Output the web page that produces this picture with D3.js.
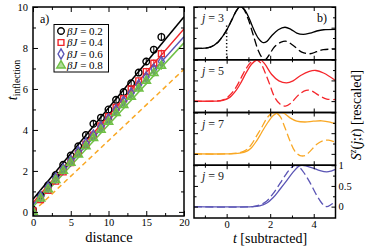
<!DOCTYPE html>
<html>
<head>
<meta charset="utf-8">
<script src="https://cdn.jsdelivr.net/npm/d3@7"></script>
<style>
  body { margin: 0; background: #fff; }
  text { font-family: "Liberation Serif", "Times New Roman", Times, serif; font-weight: normal; }
</style>
</head>
<body>
<svg id="fig" width="374" height="246"></svg>
<script>
// ---- panel a) inflection times vs distance ----
const distance = [0, 1, 2, 3, 4, 5, 6, 7, 8, 9, 10, 11, 12, 13, 14, 15, 16, 17];
const betaJ = ["0.2", "0.4", "0.6", "0.8"];
const tInfl02 = [0.1, 0.8, 1.3, 1.8, 2.3, 2.75, 3.2, 3.75, 4.3, 4.6, 5.0, 5.47, 5.85, 6.28, 6.8, 7.34, 7.92, 8.54];
const tInfl04 = [0.05, 0.6, 1.05, 1.5, 1.95, 2.4, 2.85, 3.3, 3.75, 4.2, 4.65, 5.1, 5.53, 6.0, 6.4, 6.85, 7.26, 7.72];
const tInfl06 = [0.0, 0.75, 1.2, 1.65, 2.1, 2.5, 2.95, 3.35, 3.75, 4.15, 4.55, 4.98, 5.4, 5.8, 6.2, 6.58, 6.97, 7.34];
const tInfl08 = [0.0, 0.65, 1.1, 1.55, 2.0, 2.4, 2.8, 3.2, 3.6, 4.0, 4.4, 4.82, 5.22, 5.62, 6.02, 6.4, 6.77, 7.13];
const errBar = [0.1, 0.1, 0.1, 0.1, 0.12, 0.12, 0.12, 0.12, 0.14, 0.14, 0.14, 0.14, 0.16, 0.16, 0.16, 0.18, 0.18, 0.2];
const fitIntercept = [0.62, 0.45, 0.35, 0.25];
const fitSlope = [0.445, 0.424, 0.41, 0.40];
const coneSlope = 0.348;

// ---- panel b) rescaled S^z(j;t), solid and dashed ----
const j3Solid = [[-1.5,0],[-1.0,0.005],[-0.75,0.03],[-0.4,0.15],[-0.17,0.3],[0,0.44],[0.22,0.67],[0.45,0.91],[0.6,1.0],[0.75,0.98],[0.98,0.79],[1.2,0.51],[1.45,0.25],[1.68,0.14],[1.85,0.17],[2.06,0.3],[2.37,0.45],[2.68,0.51],[2.95,0.46],[3.22,0.37],[3.52,0.34],[3.83,0.37],[4.14,0.42],[4.45,0.45],[5.0,0.46]];
const j3Dashed = [[-1.5,0],[-1.0,0.005],[-0.75,0.03],[-0.4,0.15],[-0.17,0.3],[0,0.44],[0.22,0.67],[0.45,0.91],[0.6,1.0],[0.75,0.97],[0.98,0.72],[1.2,0.36],[1.45,-0.05],[1.62,-0.22],[1.78,-0.27],[1.95,-0.16],[2.2,0.04],[2.5,0.15],[2.75,0.17],[3.06,0.07],[3.45,-0.09],[3.83,-0.13],[4.14,-0.08],[4.45,-0.03],[5.0,-0.02]];
const j5Solid = [[-1.5,0],[-0.5,0],[-0.17,0.02],[0.14,0.09],[0.45,0.27],[0.68,0.47],[0.91,0.7],[1.14,0.89],[1.37,0.99],[1.55,1.0],[1.75,0.9],[2.06,0.65],[2.4,0.49],[2.75,0.44],[3.05,0.49],[3.4,0.62],[3.8,0.72],[4.1,0.74],[4.45,0.68],[5.0,0.5]];
const j5Dashed = [[-1.5,0],[-0.5,0],[-0.17,0.03],[0.14,0.14],[0.45,0.35],[0.68,0.58],[0.91,0.8],[1.14,0.95],[1.35,1.0],[1.55,0.93],[1.75,0.71],[1.98,0.4],[2.2,0.1],[2.45,-0.07],[2.7,-0.12],[2.95,-0.05],[3.3,0.15],[3.65,0.26],[3.9,0.25],[4.2,0.15],[4.6,0.05],[5.0,0.04]];
const j7Solid = [[-1.5,0],[0,0],[0.6,0.02],[0.91,0.06],[1.14,0.15],[1.37,0.31],[1.6,0.51],[1.83,0.71],[2.14,0.93],[2.37,1.0],[2.6,0.99],[2.91,0.87],[3.22,0.79],[3.6,0.77],[3.98,0.79],[4.37,0.8],[4.75,0.77],[5.0,0.73]];
const j7Dashed = [[-1.5,0],[0,0],[0.6,0.03],[0.91,0.1],[1.14,0.23],[1.37,0.43],[1.6,0.63],[1.83,0.85],[2.06,0.98],[2.22,1.0],[2.45,0.91],[2.68,0.63],[2.91,0.31],[3.14,0.06],[3.37,-0.04],[3.6,-0.04],[3.83,0.06],[4.14,0.23],[4.45,0.32],[4.68,0.33],[5.0,0.28]];
const j9Solid = [[-1.5,0],[1.2,0],[1.52,0.02],[1.83,0.08],[2.14,0.22],[2.45,0.42],[2.75,0.62],[3.06,0.84],[3.3,0.97],[3.45,1.0],[3.68,0.98],[3.98,0.93],[4.29,0.87],[4.6,0.84],[4.8,0.86],[5.0,0.9]];
const j9Dashed = [[-1.5,0],[1.2,0],[1.52,0.04],[1.83,0.13],[2.14,0.32],[2.45,0.56],[2.75,0.8],[3.0,0.96],[3.15,1.0],[3.35,0.95],[3.6,0.78],[3.83,0.58],[4.14,0.27],[4.45,0.04],[4.6,0.0],[4.8,0.05],[5.0,0.12]];
const siteJ = [3, 5, 7, 9];
const markT = 0;

const FONT = '"Liberation Serif", "Times New Roman", Times, serif';
const svg = d3.select("#fig");
svg.append("rect").attr("width", 374).attr("height", 246).attr("fill", "#fff");

function ticks(g, axisFn, scale, vals, size, transform, fmt, pad) {
  const a = axisFn(scale).tickValues(vals).tickSize(-size).tickPadding(pad || 3)
    .tickFormat(fmt || (() => ""));
  const s = g.append("g").attr("transform", transform).call(a);
  s.select(".domain").remove();
  s.attr("font-family", FONT);
  s.selectAll("line").attr("stroke", "#000").attr("stroke-width", 1);
  s.selectAll("text").attr("font-size", 10.5).attr("fill", "#000");
  return s;
}

// ================= panel a =================
const xA = d3.scaleLinear().domain([0, 20]).range([33, 184]);
const yA = d3.scaleLinear().domain([-0.2, 10]).range([216, 7]);
const gA = svg.append("g");
gA.append("clipPath").attr("id", "clipA").append("rect")
  .attr("x", xA(0)).attr("y", yA(10)).attr("width", xA(20) - xA(0)).attr("height", yA(-0.2) - yA(10));

const colorsA = ["#000000", "#f0262a", "#5b55b5", "#6fc046"];
const seriesA = [tInfl02, tInfl04, tInfl06, tInfl08];
const symbols = [d3.symbolCircle, d3.symbolSquare, d3.symbolDiamond, d3.symbolTriangle];
const symSize = [34, 34, 30, 32];
const symFill = [0, 0, 0, 0.55];

const plotA = gA.append("g").attr("clip-path", "url(#clipA)");
// light-cone dashed line
plotA.append("line")
  .attr("x1", xA(0)).attr("y1", yA(0)).attr("x2", xA(20)).attr("y2", yA(coneSlope * 20))
  .attr("stroke", "#f9a825").attr("stroke-width", 1.5).attr("stroke-dasharray", "5,3.5");
// fitted lines
fitIntercept.forEach((b, i) => {
  plotA.append("line")
    .attr("x1", xA(0)).attr("y1", yA(b))
    .attr("x2", xA(20)).attr("y2", yA(b + fitSlope[i] * 20))
    .attr("stroke", colorsA[i]).attr("stroke-width", 1.5);
});
// markers with error bars
seriesA.forEach((vals, i) => {
  const g = plotA.append("g");
  g.selectAll("line.err").data(vals).join("line")
    .attr("x1", (d, k) => xA(distance[k])).attr("x2", (d, k) => xA(distance[k]))
    .attr("y1", (d, k) => yA(d - errBar[k])).attr("y2", (d, k) => yA(d + errBar[k]))
    .attr("stroke", colorsA[i]).attr("stroke-width", 1);
  g.selectAll("path").data(vals).join("path")
    .attr("transform", (d, k) => `translate(${xA(distance[k])},${yA(d)})`)
    .attr("d", d3.symbol().type(symbols[i]).size(symSize[i]))
    .attr("fill", colorsA[i]).attr("fill-opacity", symFill[i])
    .attr("stroke", colorsA[i]).attr("stroke-width", 1.4);
});

ticks(gA, d3.axisBottom, xA, [0, 5, 10, 15, 20], 5, `translate(0,${yA(-0.2)})`, d3.format("d"));
ticks(gA, d3.axisBottom, xA, [2.5, 7.5, 12.5, 17.5], 3, `translate(0,${yA(-0.2)})`);
ticks(gA, d3.axisTop, xA, [0, 5, 10, 15, 20], 5, `translate(0,${yA(10)})`);
ticks(gA, d3.axisTop, xA, [2.5, 7.5, 12.5, 17.5], 3, `translate(0,${yA(10)})`);
ticks(gA, d3.axisLeft, yA, [0, 2, 4, 6, 8, 10], 5, `translate(${xA(0)},0)`, d3.format("d"), 5);
ticks(gA, d3.axisLeft, yA, [1, 3, 5, 7, 9], 3, `translate(${xA(0)},0)`);
ticks(gA, d3.axisRight, yA, [0, 2, 4, 6, 8, 10], 5, `translate(${xA(20)},0)`);
ticks(gA, d3.axisRight, yA, [1, 3, 5, 7, 9], 3, `translate(${xA(20)},0)`);

gA.append("rect")
  .attr("x", xA(0)).attr("y", yA(10)).attr("width", xA(20) - xA(0)).attr("height", yA(-0.2) - yA(10))
  .attr("fill", "none").attr("stroke", "#000").attr("stroke-width", 1.5);

gA.append("text").attr("x", 40).attr("y", 23).attr("font-size", 12).text("a)");

// legend
const leg = gA.append("g");
leg.append("rect").attr("x", 54).attr("y", 24.5).attr("width", 54.5).attr("height", 47.5)
  .attr("fill", "#fff").attr("stroke", "#000").attr("stroke-width", 1);
betaJ.forEach((b, i) => {
  const yy = 31 + i * 11.5;
  leg.append("path").attr("transform", `translate(61,${yy})`)
    .attr("d", d3.symbol().type(symbols[i]).size(symSize[i]))
    .attr("fill", colorsA[i]).attr("fill-opacity", symFill[i])
    .attr("stroke", colorsA[i]).attr("stroke-width", 1.4);
  const t = leg.append("text").attr("x", 67).attr("y", yy + 3.8).attr("font-size", 11);
  t.append("tspan").attr("font-style", "italic").text("βJ");
  t.append("tspan").text(" = " + b);
});

// axis titles a
gA.append("text").attr("x", 109).attr("y", 242).attr("text-anchor", "middle")
  .attr("font-size", 14.5).text("distance");
const yl = gA.append("text").attr("transform", "translate(17,80) rotate(-90)")
  .attr("text-anchor", "middle");
yl.append("tspan").attr("font-style", "italic").attr("font-size", 14).text("t");
yl.append("tspan").attr("font-size", 9.5).attr("dy", 3).text("inflection");

// ================= panel b =================
const xB = d3.scaleLinear().domain([-1.5, 5]).range([194, 335.5]);
const panelTop = 7, panelH = 52.75;
const solids = [j3Solid, j5Solid, j7Solid, j9Solid];
const dashes = [j3Dashed, j5Dashed, j7Dashed, j9Dashed];
const colorsB = ["#000000", "#f5262b", "#f9a825", "#5b55b5"];

siteJ.forEach((j, i) => {
  const top = panelTop + i * panelH;
  const yB = d3.scaleLinear().domain([-0.275, 1]).range([top + panelH, top]);
  const g = svg.append("g");
  g.append("clipPath").attr("id", "clipB" + i).append("rect")
    .attr("x", xB(-1.5)).attr("y", top).attr("width", xB(5) - xB(-1.5)).attr("height", panelH);
  const plot = g.append("g").attr("clip-path", `url(#clipB${i})`);
  const line = d3.line().x(d => xB(d[0])).y(d => yB(d[1])).curve(d3.curveCatmullRom.alpha(0.5));
  plot.append("path").attr("d", line(dashes[i])).attr("fill", "none")
    .attr("stroke", colorsB[i]).attr("stroke-width", 1.3).attr("stroke-dasharray", "8,3.5");
  plot.append("path").attr("d", line(solids[i])).attr("fill", "none")
    .attr("stroke", colorsB[i]).attr("stroke-width", 1.3);
  if (i === 0) {
    plot.append("line").attr("x1", xB(markT)).attr("x2", xB(markT))
      .attr("y1", yB(0.55)).attr("y2", yB(-0.275))
      .attr("stroke", "#000").attr("stroke-width", 1.5).attr("stroke-dasharray", "1.2,2.3");
  }
  const last = i === siteJ.length - 1;
  ticks(g, d3.axisBottom, xB, [0, 2, 4], 4, `translate(0,${top + panelH})`, last ? d3.format("d") : null, 2.5);
  ticks(g, d3.axisBottom, xB, [-1, 1, 3], 2.5, `translate(0,${top + panelH})`);
  ticks(g, d3.axisTop, xB, [0, 2, 4], 4, `translate(0,${top})`);
  ticks(g, d3.axisTop, xB, [-1, 1, 3], 2.5, `translate(0,${top})`);
  ticks(g, d3.axisLeft, yB, [0, 0.5, 1], 4, `translate(${xB(-1.5)},0)`);
  ticks(g, d3.axisLeft, yB, [0.25, 0.75], 2.5, `translate(${xB(-1.5)},0)`);
  ticks(g, d3.axisRight, yB, [0, 0.5, 1], 4, `translate(${xB(5)},0)`, last ? (d => d3.format("")(d)) : null, 3);
  ticks(g, d3.axisRight, yB, [0.25, 0.75], 2.5, `translate(${xB(5)},0)`);
  g.append("rect").attr("x", xB(-1.5)).attr("y", top).attr("width", xB(5) - xB(-1.5)).attr("height", panelH)
    .attr("fill", "none").attr("stroke", "#000").attr("stroke-width", 1.5);
  const lab = g.append("text").attr("x", 202).attr("y", top + 15).attr("font-size", 12).attr("fill", "#222");
  lab.append("tspan").attr("font-style", "italic").text("j");
  lab.append("tspan").text(" = " + j);
});

svg.append("text").attr("x", 317).attr("y", 22).attr("font-size", 12).text("b)");

svg.append("text").attr("x", 270).attr("y", 242.5).attr("text-anchor", "middle").attr("font-size", 14)
  .call(t => {
    t.append("tspan").attr("font-style", "italic").text("t");
    t.append("tspan").text(" [subtracted]");
  });

const rl = svg.append("text").attr("transform", "translate(361,115) rotate(-90)")
  .attr("text-anchor", "middle").attr("font-size", 14);
rl.append("tspan").attr("font-style", "italic").text("S");
rl.append("tspan").attr("font-style", "italic").attr("font-size", 9.5).attr("dy", -5).text("z");
rl.append("tspan").attr("dy", 5).text("(");
rl.append("tspan").attr("font-style", "italic").text("j");
rl.append("tspan").text(";");
rl.append("tspan").attr("font-style", "italic").text("t");
rl.append("tspan").text(") [rescaled]");
</script>
</body>
</html>
